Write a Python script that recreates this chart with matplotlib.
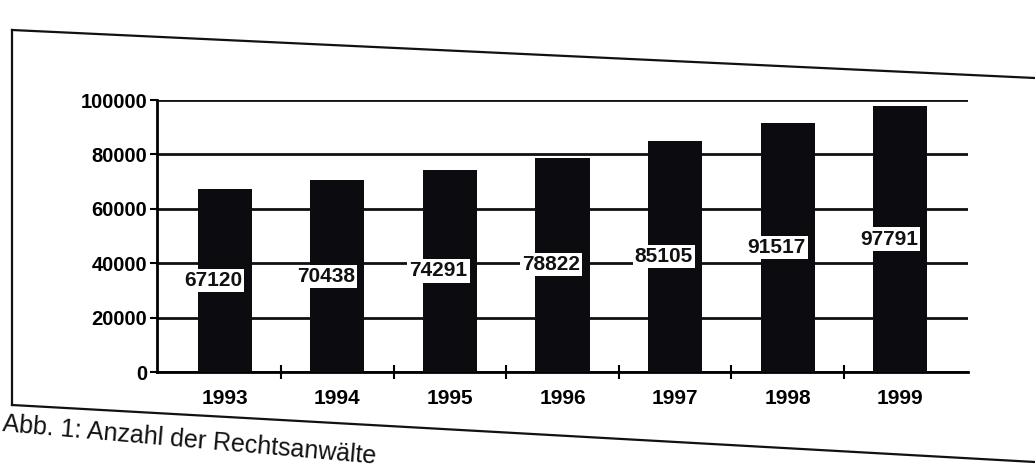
import matplotlib.pyplot as plt
from matplotlib.lines import Line2D

years = ['1993', '1994', '1995', '1996', '1997', '1998', '1999']
lawyers = [67120, 70438, 74291, 78822, 85105, 91517, 97791]
y_ticks = [0, 20000, 40000, 60000, 80000, 100000]
caption = 'Abb. 1: Anzahl der Rechtsanwälte'

plt.rcParams['font.family'] = ['Liberation Sans', 'DejaVu Sans']

W, H = 1035, 471
fig = plt.figure(figsize=(W / 100, H / 100), dpi=100)
fig.patch.set_facecolor('white')


def px(x, y):
    # pixel position (from top-left) -> figure fraction
    return x / W, 1 - y / H


# outer frame of the scanned page figure
for (x0, y0), (x1, y1) in [((12, 30), (1035, 78)), ((12, 30), (12, 405)),
                           ((12, 405), (1035, 462))]:
    a, b = px(x0, y0)
    c, d = px(x1, y1)
    fig.add_artist(Line2D([a, c], [b, d], color='#111111', lw=1.6))

ax = fig.add_axes([157 / W, 1 - 372 / H, 811 / W, 272 / H])
x = list(range(len(years)))
ax.bar(x, lawyers, width=0.48, color='#0b0b10', zorder=3)

for xi, v in zip(x, lawyers):
    ax.text(xi - 0.1, v / 2, str(v), ha='center', va='center', fontsize=15,
            fontweight='bold', color='#111111', zorder=4,
            bbox=dict(facecolor='white', edgecolor='none', pad=1.5))

ax.set_ylim(0, 100000)
ax.set_xlim(-0.6, len(years) - 0.4)
ax.set_yticks(y_ticks)
ax.set_yticklabels([str(t) for t in y_ticks], fontsize=14.5, fontweight='bold')
ax.yaxis.grid(True, color='#111111', lw=2, zorder=1)
ax.set_axisbelow(True)

ax.set_xticks([i + 0.5 for i in x[:-1]])
ax.set_xticklabels([])
ax.set_xticks(x, minor=True)
ax.set_xticklabels(years, minor=True, fontsize=15, fontweight='bold')
ax.tick_params(axis='x', which='minor', length=0, pad=12)
ax.tick_params(axis='x', which='major', direction='inout', length=10, width=1.5)
ax.tick_params(axis='y', direction='out', length=5, width=1.5, pad=2)

for side in ['top', 'right']:
    ax.spines[side].set_visible(False)
ax.spines['left'].set_linewidth(2)
ax.spines['bottom'].set_linewidth(2)

fig.text(2 / W, 1 - 440 / H, caption, fontsize=18, color='#111111',
         rotation=-5, va='center', ha='left')

fig.savefig('out.png', dpi=100, facecolor='white')
